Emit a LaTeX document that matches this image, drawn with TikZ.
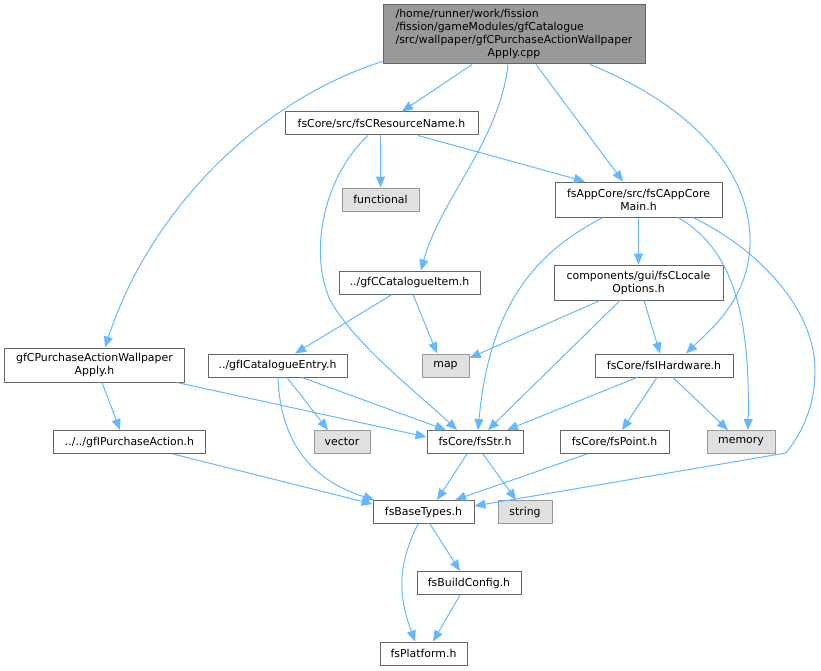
\documentclass[tikz,border=0pt]{standalone}
\usepackage{fontspec}
\setmainfont{DejaVu Sans}
\usetikzlibrary{arrows.meta}
\definecolor{edgecol}{HTML}{63B8FF}
\definecolor{boxborder}{HTML}{666666}
\definecolor{sysfill}{HTML}{E0E0E0}
\definecolor{sysborder}{HTML}{999999}
\definecolor{rootfill}{HTML}{999999}
\tikzset{
  box/.style={draw=boxborder, fill=white, line width=1bp, minimum height=23bp, inner sep=0pt, align=center, font=\fontsize{10.9bp}{13bp}\selectfont},
  sysbox/.style={box, draw=sysborder, fill=sysfill},
  rootbox/.style={box, draw=boxborder, fill=rootfill},
  dep/.style={draw=edgecol, line width=1bp, -{Triangle[length=11bp,width=9bp]}},
}
\begin{document}
\begin{tikzpicture}[x=1bp,y=-1bp]
\useasboundingbox (0,0) rectangle (821,671);
\node[rootbox, minimum width=262bp, minimum height=59bp] (root) at (514,34.5)
  {\begin{tabular}{@{}l@{}}/home/runner/work/fission\\/fission/gameModules/gfCatalogue\\/src/wallpaper/gfCPurchaseActionWallpaper\\\multicolumn{1}{@{}c@{}}{Apply.cpp}\end{tabular}};
\node[box, minimum width=193bp] (resname) at (381.5,123.5) {fsCore/src/fsCResourceName.h};
\node[sysbox, minimum width=77bp] (functional) at (380.5,199.5) {functional};
\node[box, minimum width=167bp, minimum height=35bp] (appcore) at (638.5,199.5) {fsAppCore/src/fsCAppCore\\Main.h};
\node[box, minimum width=141bp] (catitem) at (409.5,282.5) {../gfCCatalogueItem.h};
\node[box, minimum width=179bp, minimum height=34bp] (wallh) at (94.5,365) {gfCPurchaseActionWallpaper\\Apply.h};
\node[box, minimum width=139bp] (catentry) at (277.5,365.5) {../gfICatalogueEntry.h};
\node[box, minimum width=169bp, minimum height=35bp] (locale) at (638.5,282.5) {components/gui/fsCLocale\\Options.h};
\node[sysbox, minimum width=47bp] (map) at (445.5,365.5) {map};
\node[box, minimum width=138bp] (hardware) at (664,365.5) {fsCore/fsIHardware.h};
\node[box, minimum width=96bp] (str) at (475,442) {fsCore/fsStr.h};
\node[box, minimum width=109bp] (point) at (614.5,442) {fsCore/fsPoint.h};
\node[sysbox, minimum width=68bp] (memory) at (741,442) {memory};
\node[sysbox, minimum width=56bp] (vector) at (342,442) {vector};
\node[box, minimum width=151bp] (purch) at (129.5,442) {../../gfIPurchaseAction.h};
\node[box, minimum width=101bp] (base) at (423.5,512) {fsBaseTypes.h};
\node[sysbox, minimum width=54bp] (string) at (525,512) {string};
\node[box, minimum width=104bp] (build) at (469,583) {fsBuildConfig.h};
\node[box, minimum width=87bp] (platform) at (423.5,653.5) {fsPlatform.h};

\draw[dep] ([xshift=-42bp]root.south) -- ([xshift=20.5bp]resname.north);
\draw[dep] ([yshift=3bp]root.south west) .. controls (260,100) and (150,210) .. ([xshift=10.5bp]wallh.north);
\draw[dep] ([xshift=-6bp]root.south) .. controls (500,140) and (440,200) .. ([xshift=11.5bp]catitem.north);
\draw[dep] ([xshift=22bp]root.south) -- ([xshift=-15.5bp]appcore.north);
\draw[dep] ([xshift=76bp]root.south) .. controls (690,105) and (752,170) .. (750,245) .. controls (748,300) and (710,330) .. ([xshift=22bp]hardware.north);
\draw[dep] (functional.north |- resname.south) -- (functional.north);
\draw[dep] ([xshift=36.5bp]resname.south) -- ([xshift=-53.5bp]appcore.north);
\draw[dep] ([xshift=-13.5bp]resname.south) .. controls (325,175) and (308,250) .. (330,300) .. controls (355,345) and (420,395) .. ([xshift=-18bp]str.north);
\draw[dep] (appcore.south) -- (locale.north);
\draw[dep] ([xshift=-35.5bp]appcore.south) .. controls (540,250) and (490,300) .. ([xshift=3bp]str.north);
\draw[dep] ([xshift=39.5bp]appcore.south) .. controls (735,250) and (750,320) .. ([xshift=7bp]memory.north);
\draw[dep] ([xshift=54.5bp]appcore.south) .. controls (760,250) and (815,310) .. (815,370) .. controls (815,410) and (800,435) .. (786,453) -- ([yshift=6bp]base.east);
\draw[dep] ([xshift=-17.5bp]catitem.south) -- ([xshift=17.5bp]catentry.north);
\draw[dep] ([xshift=3.5bp]catitem.south) -- ([xshift=-8.5bp]map.north);
\draw[dep] ([xshift=-38.5bp]locale.south) -- ([yshift=7.5bp]map.east);
\draw[dep] ([xshift=-18.5bp]locale.south) -- ([xshift=13bp]str.north);
\draw[dep] ([xshift=5.5bp]locale.south) -- ([xshift=-4bp]hardware.north);
\draw[dep] ([xshift=7.5bp]wallh.south) -- ([xshift=-9.5bp]purch.north);
\draw[dep] ([xshift=82.5bp]wallh.south) -- ([yshift=5bp]str.west);
\draw[dep] ([xshift=9.5bp]catentry.south) -- ([xshift=-14bp]vector.north);
\draw[dep] ([xshift=24.5bp]catentry.south) -- ([xshift=-29bp]str.north);
\draw[dep] ([xshift=0.5bp]catentry.south) .. controls (280,440) and (310,480) .. ([xshift=2bp]base.north west);
\draw[dep] ([xshift=-27bp]hardware.south) -- ([xshift=32bp]str.north);
\draw[dep] ([xshift=-7bp]hardware.south) -- ([xshift=7.5bp]point.north);
\draw[dep] ([xshift=9bp]hardware.south) -- ([xshift=-13bp]memory.north);
\draw[dep] ([xshift=-8bp]str.south) -- ([xshift=13.5bp]base.north);
\draw[dep] ([xshift=8bp]str.south) -- ([xshift=-9bp]string.north);
\draw[dep] ([xshift=-27.5bp]point.south) -- ([xshift=31.5bp]base.north);
\draw[dep] ([xshift=43.5bp]purch.south) -- ([yshift=8bp]base.west);
\draw[dep] ([xshift=6.5bp]base.south) -- ([xshift=-9bp]build.north);
\draw[dep] ([xshift=-5.5bp]base.south) .. controls (395,570) and (400,600) .. ([xshift=-8.5bp]platform.north);
\draw[dep] ([xshift=-9bp]build.south) -- ([xshift=9.5bp]platform.north);
\end{tikzpicture}
\end{document}
